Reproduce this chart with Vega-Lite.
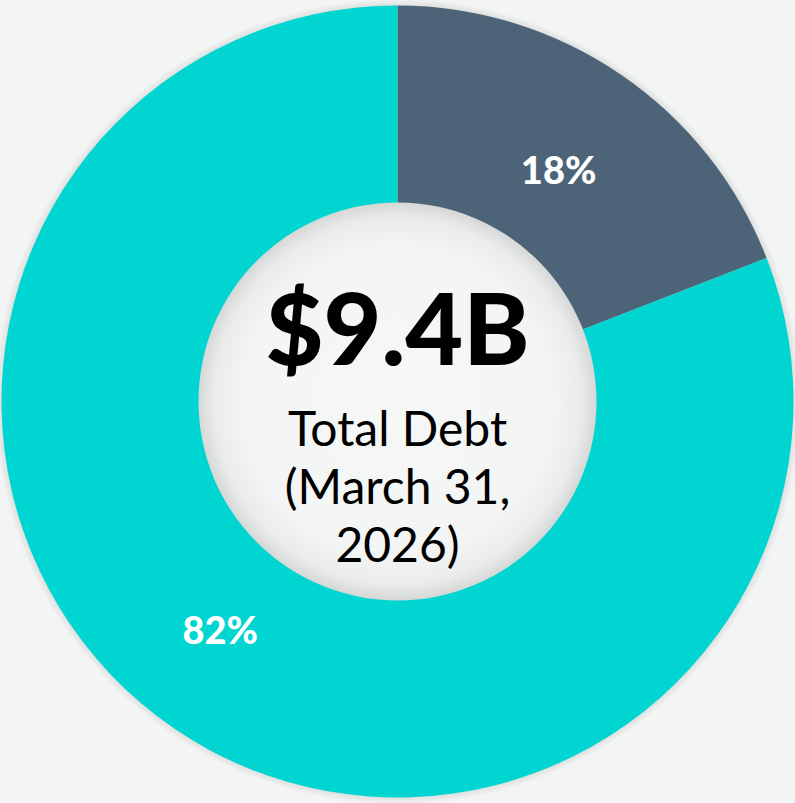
{
  "$schema": "https://vega.github.io/schema/vega-lite/v6.json",
  "width": 795,
  "height": 803,
  "autosize": {"type": "fit", "contains": "padding"},
  "padding": 0,
  "background": "#f3f4f4",
  "view": {"stroke": null},
  "datasets": {
    "slices": [
      {"segment": "Segment A", "share": 19.1, "label": "18%", "rank": 1},
      {"segment": "Segment B", "share": 80.9, "label": "82%", "rank": 2}
    ],
    "disk": [{"v": 1}],
    "center": [{"headline": "$9.4B", "caption": "Total Debt\n(March 31,\n2026)"}]
  },
  "resolve": {"scale": {"theta": "independent"}},
  "layer": [
    {
      "data": {"name": "disk"},
      "mark": {"type": "arc", "radius": 403, "fill": {"gradient": "radial", "stops": [{"offset": 0.97, "color": "rgba(0,0,0,0.14)"}, {"offset": 1, "color": "rgba(0,0,0,0)"}]}},
      "encoding": {"theta": {"field": "v", "type": "quantitative"}}
    },
    {
      "data": {"name": "slices"},
      "mark": {"type": "arc", "radius": 396},
      "encoding": {
        "theta": {"field": "share", "type": "quantitative", "stack": true},
        "order": {"field": "rank", "type": "quantitative"},
        "color": {"field": "segment", "type": "nominal", "scale": {"domain": ["Segment A", "Segment B"], "range": ["#4d6478", "#00d5d1"]}, "legend": null}
      }
    },
    {
      "data": {"name": "disk"},
      "mark": {"type": "arc", "radius": 199, "fill": {"gradient": "radial", "stops": [{"offset": 0, "color": "#f6f7f7"}, {"offset": 0.78, "color": "#f3f4f4"}, {"offset": 0.92, "color": "#eaebeb"}, {"offset": 1, "color": "#d6d7d7"}]}},
      "encoding": {"theta": {"field": "v", "type": "quantitative"}}
    },
    {
      "data": {"name": "slices"},
      "mark": {"type": "text", "radius": 280, "font": "Lato", "fontSize": 38, "fontWeight": 900, "fill": "#ffffff", "align": "center", "baseline": "middle", "dx": 3, "dy": 3},
      "encoding": {
        "theta": {"field": "share", "type": "quantitative", "stack": true},
        "order": {"field": "rank", "type": "quantitative"},
        "text": {"condition": {"test": "datum.rank == 1", "field": "label"}, "value": ""}
      }
    },
    {
      "data": {"name": "slices"},
      "mark": {"type": "text", "radius": 291, "font": "Lato", "fontSize": 38, "fontWeight": 900, "fill": "#ffffff", "align": "center", "baseline": "middle", "dx": -13, "dy": -9},
      "encoding": {
        "theta": {"field": "share", "type": "quantitative", "stack": true},
        "order": {"field": "rank", "type": "quantitative"},
        "text": {"condition": {"test": "datum.rank == 2", "field": "label"}, "value": ""}
      }
    },
    {
      "data": {"name": "center"},
      "mark": {"type": "text", "font": "Lato", "fontSize": 100, "fontWeight": 900, "fill": "#000000", "align": "center", "baseline": "alphabetic", "dy": -37},
      "encoding": {"text": {"field": "headline", "type": "nominal"}}
    },
    {
      "data": {"name": "center"},
      "mark": {"type": "text", "font": "Lato", "fontSize": 48, "fontWeight": "normal", "fill": "#000000", "align": "center", "baseline": "alphabetic", "lineBreak": "\n", "lineHeight": 58, "dy": 44},
      "encoding": {"text": {"field": "caption", "type": "nominal"}}
    }
  ]
}
